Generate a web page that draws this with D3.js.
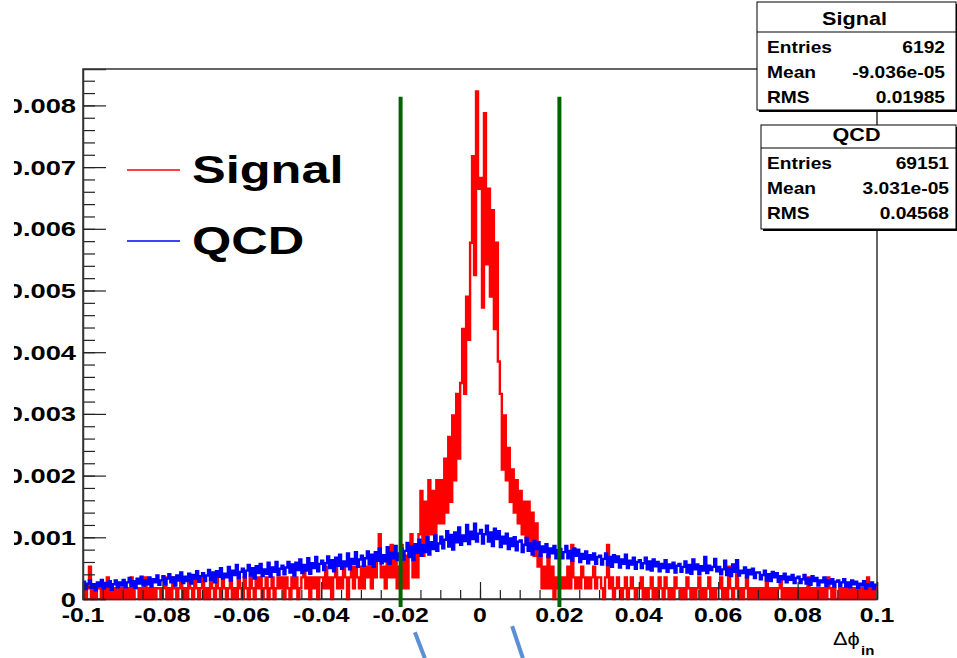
<!DOCTYPE html>
<html>
<head>
<meta charset="utf-8">
<script src="https://cdn.jsdelivr.net/npm/d3@7"></script>
<style>
  body { margin: 0; background: #fff; }
  svg { display: block; }
  text { font-family: "Liberation Sans", Arial, sans-serif; }
</style>
</head>
<body>
<svg id="chart" width="957" height="658"></svg>
<script>
// binning of both histograms (400 bins over -0.1 .. 0.1)
var binLo = -0.1;
var binW = 0.0005;

// Signal: entries per bin, one entry is worth signalUnit after normalisation
var signalUnit = 0.000175;
var signalCounts = [
  1,0,1,3,0,1,0,1,1,0,1,0,2,0,1,0,1,0,1,0,
  1,0,1,0,2,0,1,1,0,1,0,2,0,1,0,1,0,1,1,0,
  1,2,0,1,0,2,1,0,1,2,0,1,0,2,1,0,2,1,0,1,
  2,0,1,0,2,1,0,2,1,0,2,1,0,1,2,0,1,0,2,1,
  0,2,1,0,2,1,0,2,1,2,0,1,2,0,1,2,0,1,2,1,
  2,0,2,1,0,2,1,2,0,1,2,3,1,2,0,2,1,2,0,2,
  2,1,3,1,2,0,2,3,1,2,1,3,2,0,2,3,1,3,2,1,
  3,1,3,2,4,1,3,2,4,6,2,3,1,4,2,5,2,4,1,3,
  5,1,4,1,5,6,2,5,2,6,10,4,9,5,11,6,10,5,11,7,
  11,7,13,8,15,9,17,11,19,13,20,25,19,28,24,33,41,30,47,38,
  39,27,45,31,38,28,36,25,33,22,19,12,17,11,14,9,12,8,11,7,
  10,6,9,5,9,5,8,4,7,3,4,1,3,1,4,1,3,0,2,1,
  2,1,2,1,3,1,5,2,1,2,1,3,2,1,2,1,2,3,1,2,
  2,1,0,2,5,1,2,0,1,2,1,0,1,2,0,1,2,1,0,1,
  1,2,0,1,0,1,2,0,1,0,2,1,0,2,1,0,1,0,2,1,
  1,0,1,0,2,1,0,1,0,1,2,0,1,0,1,2,0,1,0,1,
  1,2,0,1,0,3,1,0,1,3,0,1,0,1,2,0,1,0,1,0,
  1,0,1,0,2,0,1,0,1,0,1,2,0,1,0,1,0,1,0,1,
  0,1,0,1,0,2,0,1,0,1,0,1,0,1,0,2,1,0,1,0,
  0,1,0,1,0,1,0,1,0,1,0,1,0,1,0,2,0,1,0,1
];

// QCD: bin contents in units of 1e-5
var qcdValues = [
  28,16,25,30,18,24,14,27,21,31,17,26,20,29,15,24,30,19,27,22,
  31,19,27,34,21,29,18,33,25,36,22,30,24,35,20,32,27,38,23,30,
  37,24,33,40,27,35,22,38,30,43,26,36,29,41,25,39,33,45,28,37,
  42,29,38,47,31,43,27,45,36,50,33,41,35,52,30,46,39,55,34,44,
  49,35,46,55,38,50,33,53,42,57,37,48,41,59,36,51,44,60,39,49,
  54,40,51,60,43,56,38,59,47,64,42,55,46,66,41,58,50,68,45,57,
  62,47,58,69,50,63,45,67,54,72,49,61,53,74,48,65,57,76,52,64,
  70,54,66,77,57,72,52,76,62,82,58,71,61,84,57,75,66,86,63,74,
  82,64,78,91,68,85,63,89,75,96,70,87,76,100,72,92,81,103,78,90,
  101,82,96,110,85,104,80,108,92,116,88,103,94,120,89,109,97,122,93,106,
  112,90,105,119,93,108,86,114,97,110,84,101,90,106,81,98,86,100,79,93,
  95,76,88,99,78,90,72,94,81,92,70,85,76,89,68,82,74,86,66,79,
  81,66,76,86,66,78,62,82,70,80,60,73,65,77,58,71,64,74,57,68,
  70,56,65,74,55,68,52,71,60,69,51,64,57,72,50,62,56,67,49,60,
  63,50,58,67,48,61,46,64,53,60,45,57,50,63,44,56,50,59,43,54,
  57,44,52,61,43,55,41,64,48,56,40,53,46,68,42,54,47,52,65,45,
  52,40,48,62,39,50,37,56,44,63,38,46,42,51,35,47,40,49,34,43,
  43,32,39,46,30,40,29,44,35,42,28,37,32,41,27,36,31,39,26,34,
  36,26,32,39,25,33,23,37,29,34,22,30,27,35,21,30,25,32,20,28,
  30,21,27,32,20,27,19,30,24,28,18,25,22,29,17,24,21,27,16,23
];

var xTickValues = [-0.1, -0.08, -0.06, -0.04, -0.02, 0, 0.02, 0.04, 0.06, 0.08, 0.1];
var xTickLabels = ['-0.1', '-0.08', '-0.06', '-0.04', '-0.02', '0', '0.02', '0.04', '0.06', '0.08', '0.1'];
var yTickValues = [0, 0.001, 0.002, 0.003, 0.004, 0.005, 0.006, 0.007, 0.008];
var yTickLabels = ['0', '0.001', '0.002', '0.003', '0.004', '0.005', '0.006', '0.007', '0.008'];

var cutValues = [-0.02, 0.02];
var seriesNames = ['Signal', 'QCD'];
var seriesColors = ['#ff0000', '#0000ff'];
var signalStats = [['Entries', '6192'], ['Mean', '-9.036e-05'], ['RMS', '0.01985']];
var qcdStats = [['Entries', '69151'], ['Mean', '3.031e-05'], ['RMS', '0.04568']];

var svg = d3.select('#chart');

var x = d3.scaleLinear().domain([-0.1, 0.1]).range([83, 877]);
var y = d3.scaleLinear().domain([0, 0.00859]).range([599, 69]);

// text helper, the picture's lettering is wider than the font
function label(g, px, py, str, size, anchor, weight, sx) {
  return g.append('text')
    .attr('transform', 'translate(' + px + ',' + py + ') scale(' + sx + ',1)')
    .attr('text-anchor', anchor)
    .style('font-size', size + 'px')
    .style('font-weight', weight)
    .text(str);
}

function histPoints(vals, scale) {
  var pts = vals.map(function(v, i) { return [binLo + i * binW, v * scale]; });
  pts.push([binLo + vals.length * binW, vals[vals.length - 1] * scale]);
  return pts;
}

var line = d3.line()
  .x(function(d) { return x(d[0]); })
  .y(function(d) { return y(d[1]); })
  .curve(d3.curveStepAfter);

// frame
svg.append('rect')
  .attr('x', x(-0.1)).attr('y', y(0.00859))
  .attr('width', x(0.1) - x(-0.1)).attr('height', y(0) - y(0.00859))
  .attr('fill', 'none').attr('stroke', '#333').attr('stroke-width', 1.5);

// histograms (drawn thick, the bins are only 2px wide)
svg.append('path')
  .datum(histPoints(signalCounts, signalUnit))
  .attr('d', line)
  .attr('fill', 'none').attr('stroke', seriesColors[0]).attr('stroke-width', 2.4);

svg.append('path')
  .datum(histPoints(qcdValues, 1e-5))
  .attr('d', line)
  .attr('fill', 'none').attr('stroke', seriesColors[1]).attr('stroke-width', 2.4);

// axes, ticks point inside the frame
var xMinor = d3.range(-0.1, 0.10001, 0.005);
var yMinor = d3.range(0, 0.00850, 0.0002);

svg.append('g').attr('transform', 'translate(0,' + y(0) + ')')
  .call(d3.axisBottom(x).tickValues(xMinor).tickSize(-9).tickFormat(''))
  .call(function(g) { g.select('.domain').remove(); });
svg.append('g').attr('transform', 'translate(0,' + y(0) + ')')
  .call(d3.axisBottom(x).tickValues(xTickValues).tickSize(-17).tickFormat(''))
  .call(function(g) { g.select('.domain').attr('stroke', '#333').attr('stroke-width', 1.5); });

svg.append('g').attr('transform', 'translate(' + x(-0.1) + ',0)')
  .call(d3.axisLeft(y).tickValues(yMinor).tickSize(-12).tickFormat(''))
  .call(function(g) { g.select('.domain').remove(); });
svg.append('g').attr('transform', 'translate(' + x(-0.1) + ',0)')
  .call(d3.axisLeft(y).tickValues(yTickValues).tickSize(-23).tickFormat(''))
  .call(function(g) { g.select('.domain').attr('stroke', '#333').attr('stroke-width', 1.5); });

svg.selectAll('.tick line').attr('stroke', '#222').attr('stroke-width', 1.2);

// tick labels
svg.append('clipPath').attr('id', 'yclip')
  .append('rect').attr('x', 14).attr('y', 0).attr('width', 80).attr('height', 658);
var yLab = svg.append('g').attr('clip-path', 'url(#yclip)');
yTickValues.forEach(function(v, i) {
  label(yLab, 76, y(v) + 7.5, yTickLabels[i], 21, 'end', 'bold', 1.3);
});
xTickValues.forEach(function(v, i) {
  label(svg, x(v), 622, xTickLabels[i], 21, 'middle', 'bold', 1.18);
});

// axis title
label(svg, 833, 645, 'Δϕ', 19, 'start', 'normal', 1.15);
label(svg, 861, 655, 'in', 13, 'start', 'bold', 1.15);

// cut lines
svg.selectAll('.cut')
  .data(cutValues)
  .enter().append('line')
  .attr('class', 'cut')
  .attr('x1', function(d) { return x(d); }).attr('x2', function(d) { return x(d); })
  .attr('y1', y(0.00814)).attr('y2', y(-0.00013))
  .attr('stroke', '#006400').attr('stroke-width', 4);

// hand drawn marks under the axis
var marks = [
  [[-0.0164, -0.00054], [-0.0139, -0.00096]],
  [[0.0081, -0.00044], [0.0108, -0.00096]]
];
svg.selectAll('.mark')
  .data(marks)
  .enter().append('line')
  .attr('class', 'mark')
  .attr('x1', function(d) { return x(d[0][0]); }).attr('y1', function(d) { return y(d[0][1]); })
  .attr('x2', function(d) { return x(d[1][0]); }).attr('y2', function(d) { return y(d[1][1]); })
  .attr('stroke', '#5b8fd6').attr('stroke-width', 4);

// legend
var legendY = [170, 241];
seriesNames.forEach(function(name, i) {
  svg.append('line')
    .attr('x1', 127).attr('x2', 180).attr('y1', legendY[i]).attr('y2', legendY[i])
    .attr('stroke', seriesColors[i]).attr('stroke-width', 1.5);
  label(svg, 192, legendY[i] + 13, name, 38, 'start', 'bold', 1.33);
});

// stat boxes
function statBox(title, rows, bx, by, bw, bh, titleH, valX) {
  var g = svg.append('g');
  g.append('rect').attr('x', bx + 2).attr('y', by + 2).attr('width', bw).attr('height', bh).attr('fill', '#000');
  g.append('rect').attr('x', bx).attr('y', by).attr('width', bw).attr('height', bh)
    .attr('fill', '#fff').attr('stroke', '#000').attr('stroke-width', 1);
  g.append('line').attr('x1', bx).attr('x2', bx + bw).attr('y1', by + titleH).attr('y2', by + titleH)
    .attr('stroke', '#000').attr('stroke-width', 1);
  label(g, bx + bw / 2 - 2, by + titleH - 7, title, 18, 'middle', 'bold', 1.2);
  rows.forEach(function(r, i) {
    label(g, 767, by + titleH + 21 + i * 25, r[0], 16, 'start', 'bold', 1.2);
    label(g, valX, by + titleH + 21 + i * 25, r[1], 16, 'end', 'bold', 1.2);
  });
}
statBox('Signal', signalStats, 757, 2, 199, 108, 30, 945);
statBox('QCD', qcdStats, 761, 125, 195, 104, 23, 949);
</script>
</body>
</html>
